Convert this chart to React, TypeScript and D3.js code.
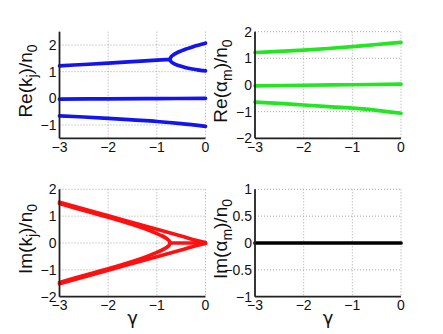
import React from "react";
import * as d3 from "d3";

// ---------- data ----------
const gammaDomain = [-3, 0];
const gammaTicks = [-3, -2, -1, 0];

// Re(k_j)/n0  (blue)
const reKPair: [number, number][] = [[-3, 1.22], [-2.5, 1.27], [-2, 1.32], [-1.5, 1.38], [-1, 1.43], [-0.8, 1.45], [-0.73, 1.46]];
const reKSplit: [number, number][] = [[0, 2.07], [-0.1, 2.02], [-0.2, 1.97], [-0.3, 1.91], [-0.4, 1.85], [-0.5, 1.78], [-0.6, 1.7], [-0.65, 1.64], [-0.7, 1.57], [-0.73, 1.46], [-0.7, 1.36], [-0.65, 1.3], [-0.6, 1.26], [-0.5, 1.2], [-0.4, 1.15], [-0.3, 1.11], [-0.2, 1.08], [-0.1, 1.05], [0, 1.03]];
const reKMid: [number, number][] = [[-3, -0.03], [-2, -0.02], [-1, -0.01], [0, 0]];
const reKLow: [number, number][] = [[-3, -0.66], [-2.5, -0.7], [-2, -0.75], [-1.5, -0.81], [-1, -0.87], [-0.5, -0.95], [0, -1.05]];

// Re(alpha_m)/n0 (green)
const reAUp: [number, number][] = [[-3, 1.22], [-2.5, 1.26], [-2, 1.31], [-1.5, 1.37], [-1, 1.44], [-0.5, 1.52], [0, 1.6]];
const reAMid: [number, number][] = [[-3, -0.03], [-2, -0.01], [-1, 0.01], [0, 0.03]];
const reALow: [number, number][] = [[-3, -0.64], [-2.5, -0.69], [-2, -0.75], [-1.5, -0.81], [-1, -0.87], [-0.5, -0.95], [0, -1.06]];

// Im(k_j)/n0 (red)
const imKOuterUp: [number, number][] = [[-3, 1.52], [-2, 1.01], [-1, 0.51], [-0.5, 0.26], [-0.2, 0.1], [0, 0.02]];
const imKOuterDn: [number, number][] = [[-3, -1.52], [-2, -1.01], [-1, -0.51], [-0.5, -0.26], [-0.2, -0.1], [0, -0.02]];
const imKInner: [number, number][] = [[-3, 1.47], [-2.5, 1.21], [-2, 0.96], [-1.5, 0.69], [-1.2, 0.5], [-1, 0.35], [-0.9, 0.27], [-0.8, 0.17], [-0.75, 0.09], [-0.73, 0], [-0.75, -0.09], [-0.8, -0.17], [-0.9, -0.27], [-1, -0.35], [-1.2, -0.5], [-1.5, -0.69], [-2, -0.96], [-2.5, -1.21], [-3, -1.47]];
const imKReal: [number, number][] = [[-0.73, 0], [0, 0]];

// Im(alpha_m)/n0 (black)
const imA: [number, number][] = [[-3, 0], [-2, 0], [-1, 0], [0, 0]];

const yTicksTL = [-1, 0, 1, 2];
const yTicksTR = [-2, -1, 0, 1, 2];
const yTicksBL = [-2, -1, 0, 1, 2];
const yTicksBR = [-1, -0.5, 0, 0.5, 1];

// ---------- layout ----------
const W = 443, H = 334;
const FONT = "'Liberation Sans', Arial, Helvetica, sans-serif";

type Panel = {
  x0: number; x1: number; y0: number; y1: number;
  yDomain: [number, number]; yTicks: number[];
  label: [string, string, string, string];
  series: { data: [number, number][]; color: string; width: number }[];
  xlabel: boolean;
};

const BLUE = "#1414f0";
const GREEN = "#22e622";
const RED = "#ff1010";

const panels: Panel[] = [
  { x0: 59.5, x1: 205.5, y0: 31.7, y1: 138.3, yDomain: [-1.5, 2.5], yTicks: yTicksTL, label: ["Re(k", "j", ")/n", "0"], xlabel: false,
    series: [reKPair, reKSplit, reKMid, reKLow].map((d) => ({ data: d, color: BLUE, width: 3.7 })) },
  { x0: 255, x1: 401, y0: 31.7, y1: 138.3, yDomain: [-2, 2], yTicks: yTicksTR, label: ["Re(α", "m", ")/n", "0"], xlabel: false,
    series: [reAUp, reAMid, reALow].map((d) => ({ data: d, color: GREEN, width: 3.7 })) },
  { x0: 59.5, x1: 205.5, y0: 189.3, y1: 296.7, yDomain: [-2, 2], yTicks: yTicksBL, label: ["Im(k", "j", ")/n", "0"], xlabel: true,
    series: [imKOuterUp, imKOuterDn, imKInner, imKReal].map((d) => ({ data: d, color: RED, width: 3.7 })) },
  { x0: 255, x1: 401, y0: 189.3, y1: 296.7, yDomain: [-1, 1], yTicks: yTicksBR, label: ["Im(α", "m", ")/n", "0"], xlabel: true,
    series: [imA].map((d) => ({ data: d, color: "#000", width: 3.7 })) },
];

const fmt = (v: number) => String(v).replace("-", "\u2212");

function PanelView({ p }: { p: Panel }) {
  const x = d3.scaleLinear().domain(gammaDomain).range([p.x0, p.x1]);
  const y = d3.scaleLinear().domain(p.yDomain).range([p.y1, p.y0]);
  const line = d3.line<[number, number]>().x((d) => x(d[0])).y((d) => y(d[1])).curve(d3.curveCatmullRom.alpha(0.5));
  const gridColor = "#a8a8a8";
  const cy = (p.y0 + p.y1) / 2 - 4;
  const lx = p.x0 - 28;
  return (
    <g>
      {gammaTicks.map((t) => (
        <line key={"gx" + t} x1={x(t)} x2={x(t)} y1={p.y0} y2={p.y1} stroke={gridColor} strokeWidth={1} strokeDasharray="1,2" />
      ))}
      {p.yTicks.map((t) => (
        <line key={"gy" + t} x1={p.x0} x2={p.x1} y1={y(t)} y2={y(t)} stroke={gridColor} strokeWidth={1} strokeDasharray="1,2" />
      ))}
      {p.series.map((s, i) => (
        <path key={i} d={line(s.data) || ""} fill="none" stroke={s.color} strokeWidth={s.width} strokeLinejoin="round" strokeLinecap="round" />
      ))}
      <line x1={p.x0} x2={p.x0} y1={p.y0} y2={p.y1} stroke="#222" strokeWidth={1.8} />
      <line x1={p.x0} x2={p.x1} y1={p.y1} y2={p.y1} stroke="#222" strokeWidth={1.8} />
      {gammaTicks.map((t) => (
        <text key={"tx" + t} x={x(t)} y={p.y1 + 13.5} textAnchor="middle" fontSize={14} fontFamily={FONT} fill="#111">{fmt(t)}</text>
      ))}
      {p.yTicks.map((t) => (
        <text key={"ty" + t} x={p.x0 - 3} y={y(t) + 5} textAnchor="end" fontSize={14} fontFamily={FONT} fill="#111">{fmt(t)}</text>
      ))}
      <text transform={`translate(${lx},${cy}) rotate(-90)`} textAnchor="middle" fontSize={19} fontFamily={FONT} fill="#111">
        {p.label[0]}
        <tspan dy={5} fontSize={14}>{p.label[1]}</tspan>
        <tspan dy={-5}>{p.label[2]}</tspan>
        <tspan dy={5} fontSize={14}>{p.label[3]}</tspan>
      </text>
      {p.xlabel && (
        <text x={(p.x0 + p.x1) / 2} y={p.y1 + 27} textAnchor="middle" fontSize={18} fontFamily="'DejaVu Sans', sans-serif" fill="#111">γ</text>
      )}
    </g>
  );
}

export default function App() {
  return (
    <svg width={W} height={H} style={{ position: "absolute", left: 0, top: 0, background: "#fff" }}>
      <rect width={W} height={H} fill="#fff" />
      {panels.map((p, i) => (
        <PanelView key={i} p={p} />
      ))}
    </svg>
  );
}
